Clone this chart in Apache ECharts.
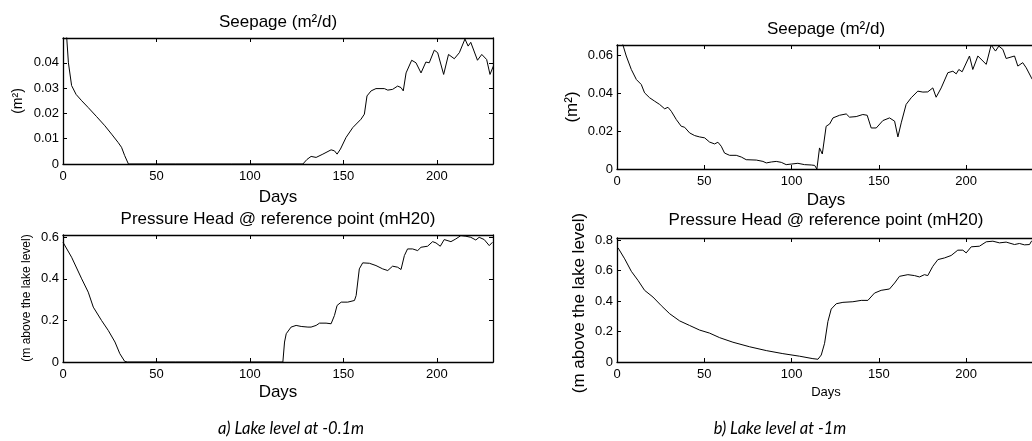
<!DOCTYPE html>
<html>
<head>
<meta charset="utf-8">
<script src="https://cdn.jsdelivr.net/npm/echarts@6.0.0/dist/echarts.min.js"></script>
<style>
  html, body { margin: 0; padding: 0; background: #fff; }
  #chart { width: 1032px; height: 441px; }
</style>
</head>
<body>
<div id="chart"></div>
<script>
// -------------------
// Data (days, value)
// -------------------
const xTicks = [0, 50, 100, 150, 200]

// a) lake level at -0.1m, seepage (m2)
const seepA_days = [0.5, 2, 2.9, 4.6, 7, 10, 13.5, 18, 22.4, 26, 29.5, 31.3, 33, 35, 60, 90, 128.3, 130.5, 132.7, 135.4, 139, 143.4, 145.2, 146.6, 148.4, 151.4, 155, 159.4, 161.2, 162.6, 164.8, 167.4, 171.9, 173.7, 174.6, 176.3, 179, 180.8, 182, 183.5, 186.5, 188.8, 191.5, 194.1, 195.9, 198.6, 200.4, 203.6, 206.2, 209.3, 212, 215, 216.7, 218.1, 221.7, 224, 226.6, 228.4, 230.2]
const seepA_vals = [0.062, 0.0498, 0.04, 0.031, 0.0275, 0.025, 0.0223, 0.0187, 0.0151, 0.0118, 0.0085, 0.0066, 0.0033, 0, 0, 0, 0, 0.0018, 0.003, 0.0026, 0.0039, 0.0056, 0.0052, 0.0039, 0.0059, 0.0105, 0.0144, 0.0177, 0.0197, 0.0269, 0.0289, 0.0298, 0.0298, 0.0292, 0.0289, 0.0295, 0.0308, 0.0302, 0.0289, 0.036, 0.041, 0.040, 0.036, 0.0403, 0.040, 0.045, 0.044, 0.0354, 0.0433, 0.0416, 0.044, 0.0494, 0.0466, 0.0481, 0.041, 0.0433, 0.0413, 0.0354, 0.0387]

// a) pressure head (m above the lake level)
const headA_days = [0, 1, 4.6, 10, 13.5, 16.2, 20.6, 24.2, 27.8, 30.4, 33, 34.5, 60, 90, 117.6, 118.5, 119.4, 122, 124.7, 127.4, 131, 132.7, 135.4, 137.2, 140.7, 143.4, 145.2, 146.6, 148.8, 152.3, 155.9, 156.8, 158.5, 160.3, 163.9, 167.4, 171, 173.7, 176.3, 179, 180.8, 182.6, 184.3, 187, 189.7, 191.5, 195, 197.7, 199.5, 201.8, 203.9, 207.5, 210.1, 212.8, 215.5, 218.1, 220.8, 222.6, 225.3, 228, 229.7]
const headA_vals = [0.576, 0.568, 0.504, 0.40, 0.336, 0.264, 0.20, 0.152, 0.096, 0.04, 0.003, 0, 0, 0, 0, 0.096, 0.136, 0.168, 0.176, 0.171, 0.168, 0.168, 0.176, 0.187, 0.187, 0.184, 0.224, 0.272, 0.288, 0.288, 0.296, 0.32, 0.448, 0.477, 0.475, 0.464, 0.448, 0.44, 0.461, 0.456, 0.445, 0.512, 0.544, 0.544, 0.536, 0.552, 0.557, 0.579, 0.573, 0.557, 0.589, 0.579, 0.592, 0.608, 0.605, 0.6, 0.587, 0.6, 0.589, 0.56, 0.576]

// b) lake level at -1m, seepage (m2)
const seepB_days = [0.5, 3.4, 5.3, 8.2, 11.1, 13.9, 15.8, 18.7, 21.6, 24.4, 27.3, 29.2, 31.1, 34, 36.8, 38.7, 41.6, 44.5, 47.3, 50.2, 53, 55.9, 57.8, 59.7, 61.6, 64.5, 68.3, 71.2, 74, 79.8, 83.6, 85.5, 88.4, 91.2, 94.1, 96.9, 99.8, 103.6, 107.4, 111.3, 113.2, 114.5, 116, 117.6, 119.8, 121.8, 123.7, 127.5, 131.3, 133.2, 137, 140.8, 143.3, 145.6, 148.5, 152.3, 156.1, 159, 160.9, 162.8, 165.6, 168.5, 172.3, 175.2, 178, 180.9, 182.8, 185.7, 189.5, 192.4, 194.3, 195.8, 197.7, 201.9, 203.8, 206.7, 211.5, 214.3, 216.8, 218.7, 221, 222.9, 227.7, 229.6, 232.4, 234.4, 237.4, 240]
const seepB_vals = [0.075, 0.0653, 0.0595, 0.0524, 0.0471, 0.0445, 0.0401, 0.0375, 0.0357, 0.034, 0.0317, 0.0325, 0.0304, 0.026, 0.0225, 0.022, 0.019, 0.0176, 0.0169, 0.0164, 0.0142, 0.0132, 0.0141, 0.012, 0.0084, 0.0072, 0.0072, 0.0063, 0.0049, 0.0047, 0.004, 0.0032, 0.0037, 0.004, 0.0035, 0.0023, 0.0026, 0.003, 0.0023, 0.0021, 0.0019, 0, 0.0111, 0.0079, 0.0225, 0.0237, 0.0269, 0.0283, 0.029, 0.0273, 0.0276, 0.0287, 0.0283, 0.0216, 0.0216, 0.0255, 0.0269, 0.0252, 0.0169, 0.0243, 0.034, 0.0375, 0.041, 0.0405, 0.0406, 0.0427, 0.0378, 0.0427, 0.0507, 0.0515, 0.0501, 0.0524, 0.0512, 0.0595, 0.0524, 0.0595, 0.0551, 0.0653, 0.0621, 0.0647, 0.063, 0.0582, 0.0595, 0.0542, 0.056, 0.0533, 0.048, 0.044]

// b) pressure head (m above the lake level)
const headB_days = [0.6, 4.4, 8.2, 12, 15.8, 20.6, 25.4, 30.2, 35.9, 41.6, 47.3, 53, 58.8, 66.4, 76, 85.5, 95, 104.6, 112.2, 115.1, 117, 118.9, 120.8, 122.7, 125.6, 129.4, 135.1, 139.9, 143.7, 147.5, 151.3, 156.1, 159, 161.8, 166.6, 170.4, 173.3, 176.1, 178, 180.9, 183.8, 187.6, 191.4, 195.2, 198.1, 200, 202.9, 207.6, 211.5, 215.3, 219.1, 222.9, 227.7, 230.5, 233.4, 236.3, 237.4, 240]
const headB_vals = [0.75, 0.678, 0.596, 0.537, 0.471, 0.427, 0.37, 0.317, 0.27, 0.24, 0.21, 0.19, 0.16, 0.13, 0.1, 0.075, 0.055, 0.038, 0.022, 0.018, 0.046, 0.123, 0.266, 0.348, 0.383, 0.392, 0.396, 0.405, 0.405, 0.453, 0.471, 0.48, 0.519, 0.563, 0.574, 0.568, 0.559, 0.574, 0.568, 0.629, 0.673, 0.684, 0.7, 0.735, 0.735, 0.717, 0.757, 0.761, 0.79, 0.794, 0.783, 0.788, 0.772, 0.779, 0.77, 0.772, 0.794, 0.8]

// -------------------
// Panel layout
// -------------------
const FONT = "Liberation Sans, Arial, sans-serif"
const panels = [
    { rect: { left: 63, top: 38, width: 430, height: 126 }, xMax: 230, yMax: 0.0498, yStep: 0.01, days: seepA_days, vals: seepA_vals },
    { rect: { left: 63, top: 235, width: 430, height: 127 }, xMax: 230, yMax: 0.611, yStep: 0.2, days: headA_days, vals: headA_vals },
    { rect: { left: 617, top: 45, width: 419, height: 124 }, xMax: 240, yMax: 0.0653, yStep: 0.02, days: seepB_days, vals: seepB_vals },
    { rect: { left: 617, top: 238, width: 419, height: 124 }, xMax: 240, yMax: 0.815, yStep: 0.2, days: headB_days, vals: headB_vals }
]

function onStep(v, step){
    const r = v / step
    return Math.abs(r - Math.round(r)) < 1e-6
}

const axisLine = { show: true, onZero: false, lineStyle: { color: "#000", width: 1.3 } }
const tick = { show: true, inside: true, length: 4, lineStyle: { color: "#000", width: 1 } }

const grid = [], xAxis = [], yAxis = [], series = []
panels.forEach((p, i) => {
    // the right panels run past the window edge, so no clamping to the viewport
    grid.push(Object.assign({ containLabel: false, outerBoundsMode: "none" }, p.rect))
    // bottom / top x axes
    ;["bottom", "top"].forEach(pos => {
        xAxis.push({
            type: "value", gridIndex: i, position: pos, min: 0, max: p.xMax, interval: 50,
            axisLine, axisTick: tick, splitLine: { show: false },
            axisLabel: {
                show: pos === "bottom", margin: 6, color: "#000", fontFamily: FONT, fontSize: 13,
                formatter: v => xTicks.includes(v) ? String(v) : ""
            }
        })
    })
    // left / right y axes
    ;["left", "right"].forEach(pos => {
        yAxis.push({
            type: "value", gridIndex: i, position: pos, min: 0, max: p.yMax, interval: p.yStep,
            axisLine, axisTick: tick, splitLine: { show: false },
            axisLabel: {
                show: pos === "left", margin: 4, color: "#000", fontFamily: FONT, fontSize: 13,
                formatter: v => onStep(v, p.yStep) ? String(+v.toFixed(3)) : ""
            }
        })
    })
    series.push({
        type: "line", xAxisIndex: 2 * i, yAxisIndex: 2 * i,
        data: p.days.map((d, k) => [d, p.vals[k]]),
        showSymbol: false, symbol: "none", clip: true, silent: true,
        lineStyle: { color: "#000", width: 1 }
    })
})

// -------------------
// Texts
// -------------------
function txt(text, x, y, font, rot){
    return {
        type: "text", x, y, rotation: rot || 0, silent: true,
        style: { text, x: 0, y: 0, font, fill: "#000",
                 align: "center", verticalAlign: "middle",
                 textAlign: "center", textVerticalAlign: "middle" }
    }
}
const big = "17px " + FONT
const graphic = [
    txt("Seepage (m²/d)", 278, 22, big),
    txt("Days", 278, 197, "17px " + FONT),
    txt("Pressure Head @ reference point (mH20)", 278, 219, big),
    txt("Days", 278, 392, "17px " + FONT),
    txt("a) Lake level at -0.1m", 291, 429, "italic 16.5px Lato, sans-serif"),
    txt("(m²)", 18, 101, "14px " + FONT, Math.PI / 2),
    txt("(m above the lake level)", 27, 298, "12px " + FONT, Math.PI / 2),

    txt("Seepage (m²/d)", 826, 29, big),
    txt("Days", 826, 200, "17px " + FONT),
    txt("Pressure Head @ reference point (mH20)", 826, 220, big),
    txt("Days", 826, 392, "13px " + FONT),
    txt("b) Lake level at -1m", 780, 429, "italic 16.5px Lato, sans-serif"),
    txt("(m²)", 572, 107, "17px " + FONT, Math.PI / 2),
    txt("(m above the lake level)", 579, 303, "17px " + FONT, Math.PI / 2)
]

const chart = echarts.init(document.getElementById("chart"), null, { renderer: "canvas" })
chart.setOption({
    backgroundColor: "#fff",
    animation: false,
    grid, xAxis, yAxis, series,
    graphic: { elements: graphic }
})
</script>
</body>
</html>
